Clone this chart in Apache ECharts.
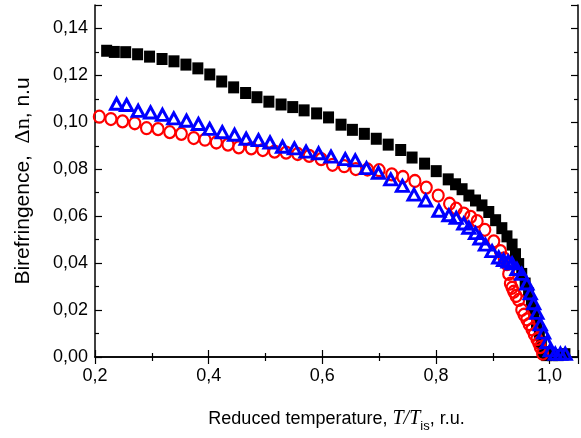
<!DOCTYPE html>
<html>
<head>
<meta charset="utf-8">
<script src="https://cdn.jsdelivr.net/npm/echarts@6/dist/echarts.min.js"></script>
<style>
html,body{margin:0;padding:0;background:#fff;}
#c{width:581px;height:438px;}
</style>
</head>
<body>
<div id="c"></div>
<script>
// Black squares
const blackX = [0.2205,0.234,0.254,0.275,0.296,0.318,0.339,0.360,0.381,0.402,0.423,0.444,0.465,0.485,0.506,0.5275,0.548,0.568,0.590,0.611,0.633,0.653,0.674,0.695,0.716,0.738,0.758,0.780,0.8005,0.8216,0.8345,0.846,0.858,0.8696,0.881,0.893,0.905,0.916,0.925,0.934,0.940,0.9456,0.951,0.957,0.963,0.968,0.9725,0.977,0.982,0.9855,0.989,0.995,1.005,1.015,1.027];
const blackY = [0.1305,0.1300,0.1299,0.1290,0.1280,0.1270,0.1260,0.1246,0.1230,0.1204,0.1174,0.1149,0.1125,0.1107,0.1088,0.1076,0.1065,0.1051,0.1038,0.1021,0.0990,0.0968,0.0951,0.0930,0.0905,0.0882,0.0850,0.0824,0.0792,0.0757,0.0736,0.0715,0.0688,0.0667,0.0646,0.0618,0.0583,0.0549,0.0514,0.0479,0.0438,0.0396,0.0354,0.0313,0.0271,0.0229,0.0188,0.0146,0.0104,0.0063,0.0021,0.0008,0.0008,0.0008,0.0012];
// Red circles
const redX = [0.2076,0.228,0.2485,0.270,0.2907,0.311,0.3316,0.352,0.3737,0.3935,0.4135,0.434,0.453,0.475,0.4953,0.516,0.5363,0.5567,0.577,0.598,0.618,0.6386,0.659,0.6795,0.700,0.7223,0.742,0.763,0.783,0.804,0.824,0.8356,0.849,0.861,0.8725,0.886,0.9018,0.9135,0.920,0.925,0.928,0.931,0.934,0.937,0.941,0.9456,0.951,0.955,0.960,0.964,0.969,0.973,0.9777,0.981,0.9836,0.9877];
const redY = [0.1024,0.1014,0.1004,0.0996,0.0975,0.0971,0.0958,0.0951,0.0933,0.0926,0.0914,0.0905,0.0893,0.0889,0.0882,0.0875,0.0871,0.0865,0.0857,0.0843,0.0819,0.0813,0.0801,0.0799,0.0796,0.0778,0.0767,0.0750,0.0722,0.0688,0.0653,0.0632,0.0611,0.0597,0.0579,0.0542,0.0493,0.0451,0.0420,0.0396,0.0354,0.0313,0.0295,0.0278,0.0260,0.0243,0.0201,0.0180,0.0160,0.0140,0.0118,0.0097,0.0076,0.0060,0.0042,0.0014];
// Blue triangles
const blueX = [0.238,0.2556,0.276,0.2977,0.3187,0.3386,0.361,0.382,0.4018,0.424,0.4456,0.466,0.4877,0.508,0.530,0.5509,0.5714,0.5935,0.6153,0.6404,0.658,0.6778,0.6988,0.7205,0.741,0.7614,0.782,0.8053,0.8228,0.8357,0.849,0.8579,0.8696,0.8775,0.887,0.8988,0.9105,0.919,0.927,0.934,0.9426,0.951,0.960,0.966,0.972,0.9777,0.9836,0.9895,0.9953,1.001,1.010,1.019,1.0275];
const blueY = [0.1079,0.1074,0.1049,0.1042,0.1032,0.1017,0.1007,0.0993,0.0972,0.0958,0.0947,0.0930,0.0924,0.0914,0.0896,0.0889,0.0875,0.0868,0.0854,0.0843,0.0838,0.0805,0.0785,0.0757,0.0729,0.0692,0.0667,0.0623,0.0604,0.0593,0.0569,0.0551,0.0528,0.0505,0.0479,0.0451,0.0424,0.0413,0.0407,0.0399,0.0375,0.0354,0.0313,0.0271,0.0229,0.0188,0.0139,0.0104,0.0063,0.0028,0.0014,0.0014,0.0014];

const xTicks = [0.2,0.4,0.6,0.8,1.0];
const yTicks = [0.00,0.02,0.04,0.06,0.08,0.10,0.12,0.14];

const FONT = 'Liberation Sans, Arial, sans-serif';
const SERIF = 'Liberation Serif, Times New Roman, serif';

function zip(a,b){ return a.map((v,i)=>[v,b[i]]); }
function isTick(v, list){ return list.some(t => Math.abs(t - v) < 1e-6); }

const axisCommon = {
  axisLine: {show: true, lineStyle: {color: '#000', width: 1.5}},
  axisTick: {show: true, inside: true, length: 7, lineStyle: {color: '#000', width: 1.2}},
  minorTick: {show: true, splitNumber: 2, length: 4, lineStyle: {color: '#000', width: 1.2}},
  splitLine: {show: false},
  minorSplitLine: {show: false}
};

const chart = echarts.init(document.getElementById('c'), null, {renderer: 'canvas'});
chart.setOption({
  backgroundColor: '#fff',
  animation: false,
  grid: {left: 95, right: 2, top: 5, bottom: 73, containLabel: false},
  xAxis: [
    Object.assign({}, axisCommon, {
      type: 'value', min: 0.2, max: 1.05, interval: 0.2, position: 'bottom',
      axisLabel: {
        color: '#000', fontFamily: FONT, fontSize: 18, margin: 10,
        formatter: v => isTick(v, xTicks) ? v.toFixed(1).replace('.', ',') : ''
      },
      name: '{a|Reduced temperature, }{i|T/T}{s|is}{a|, r.u.}',
      nameLocation: 'middle', nameGap: 48,
      nameTextStyle: {
        rich: {
          a: {fontFamily: FONT, fontSize: 18, color: '#000'},
          i: {fontFamily: SERIF, fontStyle: 'italic', fontSize: 20, color: '#000'},
          s: {fontFamily: FONT, fontSize: 13, color: '#000', padding: [15, 0, 0, 0]}
        }
      }
    }),
    Object.assign({}, axisCommon, {
      type: 'value', min: 0.2, max: 1.05, interval: 0.2, position: 'top',
      axisLabel: {show: false}
    })
  ],
  yAxis: [
    Object.assign({}, axisCommon, {
      type: 'value', min: 0, max: 0.15, interval: 0.02, position: 'left',
      axisLabel: {
        color: '#000', fontFamily: FONT, fontSize: 18, margin: 7,
        formatter: v => isTick(v, yTicks) ? v.toFixed(2).replace('.', ',') : ''
      },
      name: '{a|Birefringence,  }{b|Δn}{a|, n.u}',
      nameLocation: 'middle', nameGap: 61, nameRotate: 90,
      nameTextStyle: {
        rich: {
          a: {fontFamily: FONT, fontSize: 21, color: '#000'},
          b: {fontFamily: SERIF, fontSize: 22, color: '#000'}
        }
      }
    }),
    Object.assign({}, axisCommon, {
      type: 'value', min: 0, max: 0.15, interval: 0.02, position: 'right',
      axisLabel: {show: false}
    })
  ],
  series: [
    {
      type: 'scatter', data: zip(blackX, blackY), symbol: 'rect', symbolSize: [11, 12],
      itemStyle: {color: '#000', opacity: 1}, z: 2
    },
    {
      type: 'scatter', data: zip(redX, redY), symbol: 'circle', symbolSize: [11, 12],
      itemStyle: {color: 'rgba(0,0,0,0)', borderColor: '#ff0000', borderWidth: 2.2, opacity: 1}, z: 3
    },
    {
      type: 'scatter', data: zip(blueX, blueY), symbol: 'triangle', symbolSize: [12, 11],
      itemStyle: {color: 'rgba(0,0,0,0)', borderColor: '#0000ff', borderWidth: 3, opacity: 1}, z: 4
    }
  ]
});
</script>
</body>
</html>
